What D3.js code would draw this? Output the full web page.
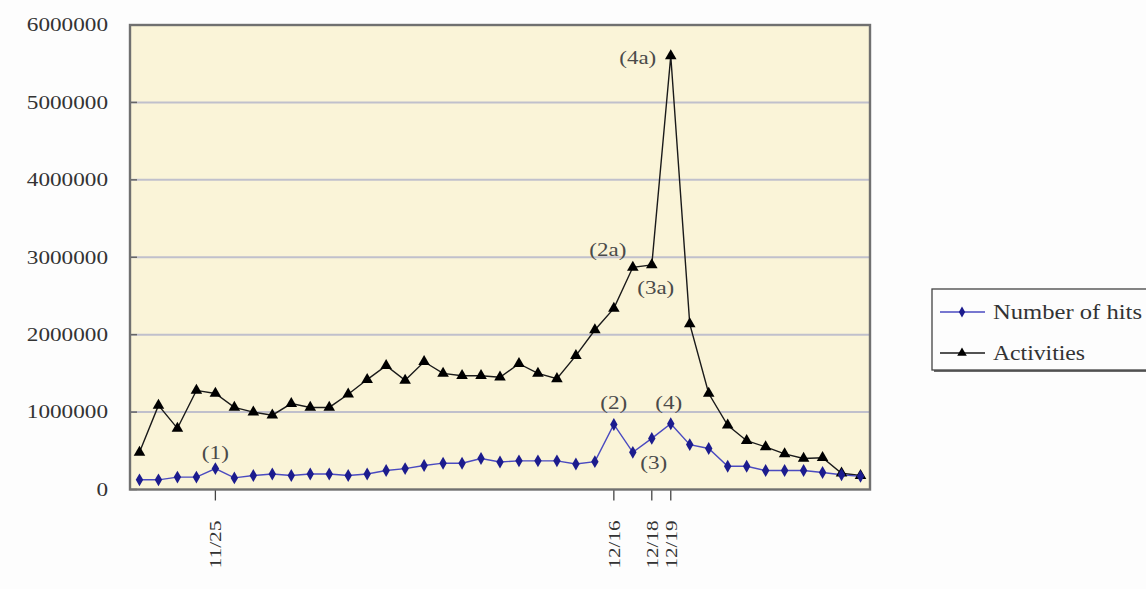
<!DOCTYPE html>
<html><head><meta charset="utf-8">
<script src="https://cdn.jsdelivr.net/npm/d3@7"></script>
<style>html,body{margin:0;padding:0;background:#fdfdfd;}svg{display:block;}</style>
</head><body>
<script>
const dates = ["11/21","11/22","11/23","11/24","11/25","11/26","11/27","11/28","11/29","11/30",
  "12/1","12/2","12/3","12/4","12/5","12/6","12/7","12/8","12/9","12/10","12/11","12/12","12/13",
  "12/14","12/15","12/16","12/17","12/18","12/19","12/20","12/21","12/22","12/23","12/24","12/25",
  "12/26","12/27","12/28","12/29"];
const hits = [125000,125000,160000,160000,270000,150000,180000,200000,180000,200000,
  200000,180000,200000,245000,270000,310000,340000,340000,400000,355000,370000,370000,370000,
  330000,360000,840000,480000,660000,850000,580000,530000,300000,300000,245000,245000,
  245000,220000,190000,170000];
const activities = [480000,1086000,790000,1280000,1240000,1060000,1000000,960000,1110000,1060000,
  1060000,1230000,1420000,1600000,1410000,1650000,1500000,1470000,1470000,1450000,1625000,1500000,1430000,
  1730000,2060000,2340000,2870000,2900000,5600000,2140000,1240000,830000,630000,550000,460000,
  400000,410000,210000,180000];
const yTicks = [0,1000000,2000000,3000000,4000000,5000000,6000000];
const xTickLabels = ["11/25","12/16","12/18","12/19"];
const seriesNames = ["Number of hits","Activities"];
const annotations = [
  {text:"(1)", series:"hits", date:"11/25"},
  {text:"(2)", series:"hits", date:"12/16"},
  {text:"(3)", series:"hits", date:"12/18"},
  {text:"(4)", series:"hits", date:"12/19"},
  {text:"(2a)", series:"acts", date:"12/17"},
  {text:"(3a)", series:"acts", date:"12/18"},
  {text:"(4a)", series:"acts", date:"12/19"}
];

const W = 1146, H = 589;
const L = 130, R = 870, T = 25, B = 489.5;
const svg = d3.select("body").append("svg").attr("width", W).attr("height", H);
svg.append("rect").attr("width", W).attr("height", H).attr("fill", "#fdfdfd");

const x = d3.scaleBand().domain(dates).range([L, R]).padding(0);
const cx = d => x(d) + x.bandwidth() / 2;
const y = d3.scaleLinear().domain([0, 6000000]).range([B, T]);

const FONT = "'Liberation Serif','Times New Roman',serif";

// plot area
svg.append("rect").attr("x", L).attr("y", T).attr("width", R - L).attr("height", B - T)
  .attr("fill", "#faf4d8");

// gridlines
svg.append("g").selectAll("line").data(yTicks.filter(v => v > 0 && v < 6000000)).join("line")
  .attr("x1", L).attr("x2", R).attr("y1", d => y(d)).attr("y2", d => y(d))
  .attr("stroke", "#c0c0cc").attr("stroke-width", 2);

// y axis labels via axis
const yAxis = svg.append("g").attr("transform", `translate(${L},0)`)
  .call(d3.axisLeft(y).tickValues(yTicks).tickFormat(d3.format("d")).tickSize(0).tickPadding(22));
yAxis.select(".domain").remove();
yAxis.selectAll("text").attr("font-family", FONT).attr("font-size", 18).attr("fill", "#333")
  .each(function(d){ const s = String(d); d3.select(this).attr("textLength", 11.6 * s.length).attr("lengthAdjust","spacingAndGlyphs"); });
// inner tick marks
svg.append("g").selectAll("line").data(yTicks).join("line")
  .attr("x1", L).attr("x2", L + 7).attr("y1", d => y(d)).attr("y2", d => y(d))
  .attr("stroke", "#666").attr("stroke-width", 1.5);

// x axis ticks + labels
const xAxis = svg.append("g").attr("transform", `translate(0,${B})`)
  .call(d3.axisBottom(x).tickValues(xTickLabels).tickSize(11).tickPadding(0));
xAxis.select(".domain").remove();
xAxis.selectAll(".tick line").attr("stroke", "#444").attr("stroke-width", 1.3);
xAxis.selectAll(".tick text")
  .attr("font-family", FONT).attr("font-size", 17).attr("fill", "#333")
  .attr("text-anchor", "end").attr("y", 0).attr("dy", "0.35em")
  .attr("transform", "translate(0,31) rotate(-90)")
  .attr("textLength", 48).attr("lengthAdjust", "spacingAndGlyphs");

// plot border
svg.append("rect").attr("x", L).attr("y", T).attr("width", R - L).attr("height", B - T)
  .attr("fill", "none").attr("stroke", "#707070").attr("stroke-width", 2.4);

// lines
const lineGen = vals => d3.line().x((d, i) => cx(dates[i])).y(d => y(d))(vals);
svg.append("path").attr("d", lineGen(activities)).attr("fill", "none").attr("stroke", "#1a1a1a").attr("stroke-width", 1.4);
svg.append("path").attr("d", lineGen(hits)).attr("fill", "none").attr("stroke", "#4a4ac0").attr("stroke-width", 1.4);

const triSym = d3.symbol().type(d3.symbolTriangle).size(58);
const diaSym = d3.symbol().type(d3.symbolDiamond).size(48);
svg.append("g").selectAll("path").data(activities).join("path")
  .attr("d", triSym).attr("transform", (d, i) => `translate(${cx(dates[i])},${y(d)})`).attr("fill", "#000");
svg.append("g").selectAll("path").data(hits).join("path")
  .attr("d", diaSym).attr("transform", (d, i) => `translate(${cx(dates[i])},${y(d)})`).attr("fill", "#1c1c8e");

// annotations
const annOffset = {"(1)":[0,-16],"(2)":[0,-22],"(3)":[2,24],"(4)":[-2,-21],"(2a)":[-25,-18],"(3a)":[4,23],"(4a)":[-33,2]};
svg.append("g").selectAll("text").data(annotations).join("text")
  .attr("x", d => cx(d.date) + annOffset[d.text][0])
  .attr("y", d => y((d.series === "hits" ? hits : activities)[dates.indexOf(d.date)]) + annOffset[d.text][1])
  .attr("dy", "0.35em").attr("text-anchor", "middle")
  .attr("font-family", FONT).attr("font-size", 18).attr("fill", "#4a4a4a")
  .attr("textLength", d => d.text.length === 4 ? 37 : 27).attr("lengthAdjust", "spacingAndGlyphs")
  .text(d => d.text);

// legend
const lg = svg.append("g");
lg.append("rect").attr("x", 934).attr("y", 291).attr("width", 230).attr("height", 81).attr("fill", "#6a6a6a");
lg.append("rect").attr("x", 932).attr("y", 289).attr("width", 230).attr("height", 81)
  .attr("fill", "#fdfdfd").attr("stroke", "#444").attr("stroke-width", 1.3);
const legY = [312, 353];
const legColors = ["#4a4ac0", "#1a1a1a"];
const legMark = ["#1c1c8e", "#000"];
const legTri = d3.symbol().type(d3.symbolTriangle).size(40);
const legDia = d3.symbol().type(d3.symbolDiamond).size(34);
seriesNames.forEach((n, i) => {
  lg.append("line").attr("x1", 940).attr("x2", 985).attr("y1", legY[i]).attr("y2", legY[i])
    .attr("stroke", legColors[i]).attr("stroke-width", 1.4);
  lg.append("path").attr("d", i === 0 ? legDia : legTri).attr("transform", `translate(962,${legY[i]})`).attr("fill", legMark[i]);
  lg.append("text").attr("x", 993).attr("y", legY[i]).attr("dy", "0.35em")
    .attr("font-family", FONT).attr("font-size", 21).attr("fill", "#333")
    .attr("textLength", i === 0 ? 149 : 92).attr("lengthAdjust", "spacingAndGlyphs").text(n);
});
</script>
</body></html>
